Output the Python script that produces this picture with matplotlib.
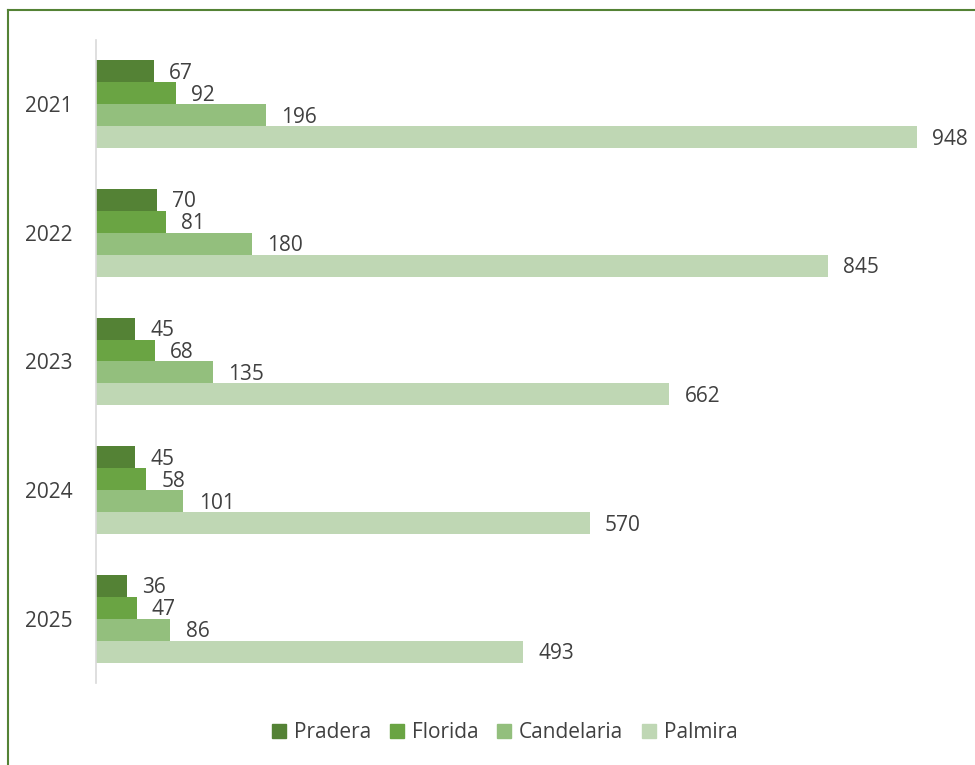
import matplotlib
matplotlib.use("Agg")
import matplotlib.pyplot as plt
import numpy as np
from matplotlib.lines import Line2D

years = ["2021", "2022", "2023", "2024", "2025"]
series = ["Pradera", "Florida", "Candelaria", "Palmira"]
pradera = [67, 70, 45, 45, 36]
florida = [92, 81, 68, 58, 47]
candelaria = [196, 180, 135, 101, 86]
palmira = [948, 845, 662, 570, 493]
values = [pradera, florida, candelaria, palmira]
colors = ["#548235", "#6aa443", "#93bf7d", "#bfd7b4"]

plt.rcParams['font.family'] = ['Open Sans', 'DejaVu Sans']

W, H = 975, 765
fig = plt.figure(figsize=(W/100, H/100), dpi=100)
ax = fig.add_axes([96/W, 1-683/H, (962-96)/W, (683-40)/H])

bh = 0.171
y = np.arange(len(years))
offsets = (np.arange(4) - 1.5) * bh
for i, (vals, c, name) in enumerate(zip(values, colors, series)):
    ax.barh(y + offsets[i], vals, height=bh, color=c, label=name)
    for yy, v in zip(y + offsets[i], vals):
        ax.annotate(str(v), (v, yy), xytext=(11, -1.5), textcoords="offset points",
                    va="center", ha="left", fontsize=15, color="#404040")

ax.set_xlim(0, 1000)
ax.set_ylim(4.5, -0.5)
ax.set_yticks(y)
ax.set_yticklabels(years, fontsize=15, color="#404040")
ax.set_xticks([])
ax.tick_params(axis='y', length=0, pad=17)
for s in ["top", "right", "bottom"]:
    ax.spines[s].set_visible(False)
ax.spines["left"].set_color("#d9d9d9")
ax.spines["left"].set_linewidth(1.2)

handles = [plt.Rectangle((0, 0), 1, 1, color=c) for c in colors]
fig.legend(handles, series, loc="center", bbox_to_anchor=(505/W, 1-733/H), ncol=4,
           frameon=False, fontsize=15, handlelength=0.65, handleheight=0.65,
           columnspacing=0.9, handletextpad=0.4, labelcolor="#404040")

# outer border (partial frame)
fig.add_artist(Line2D([8/W, 8/W], [0, 1-10/H], color="#548235", lw=1.5, transform=fig.transFigure))
fig.add_artist(Line2D([8/W, 1], [1-10/H, 1-10/H], color="#548235", lw=1.5, transform=fig.transFigure))

fig.savefig("out.png", dpi=100)
